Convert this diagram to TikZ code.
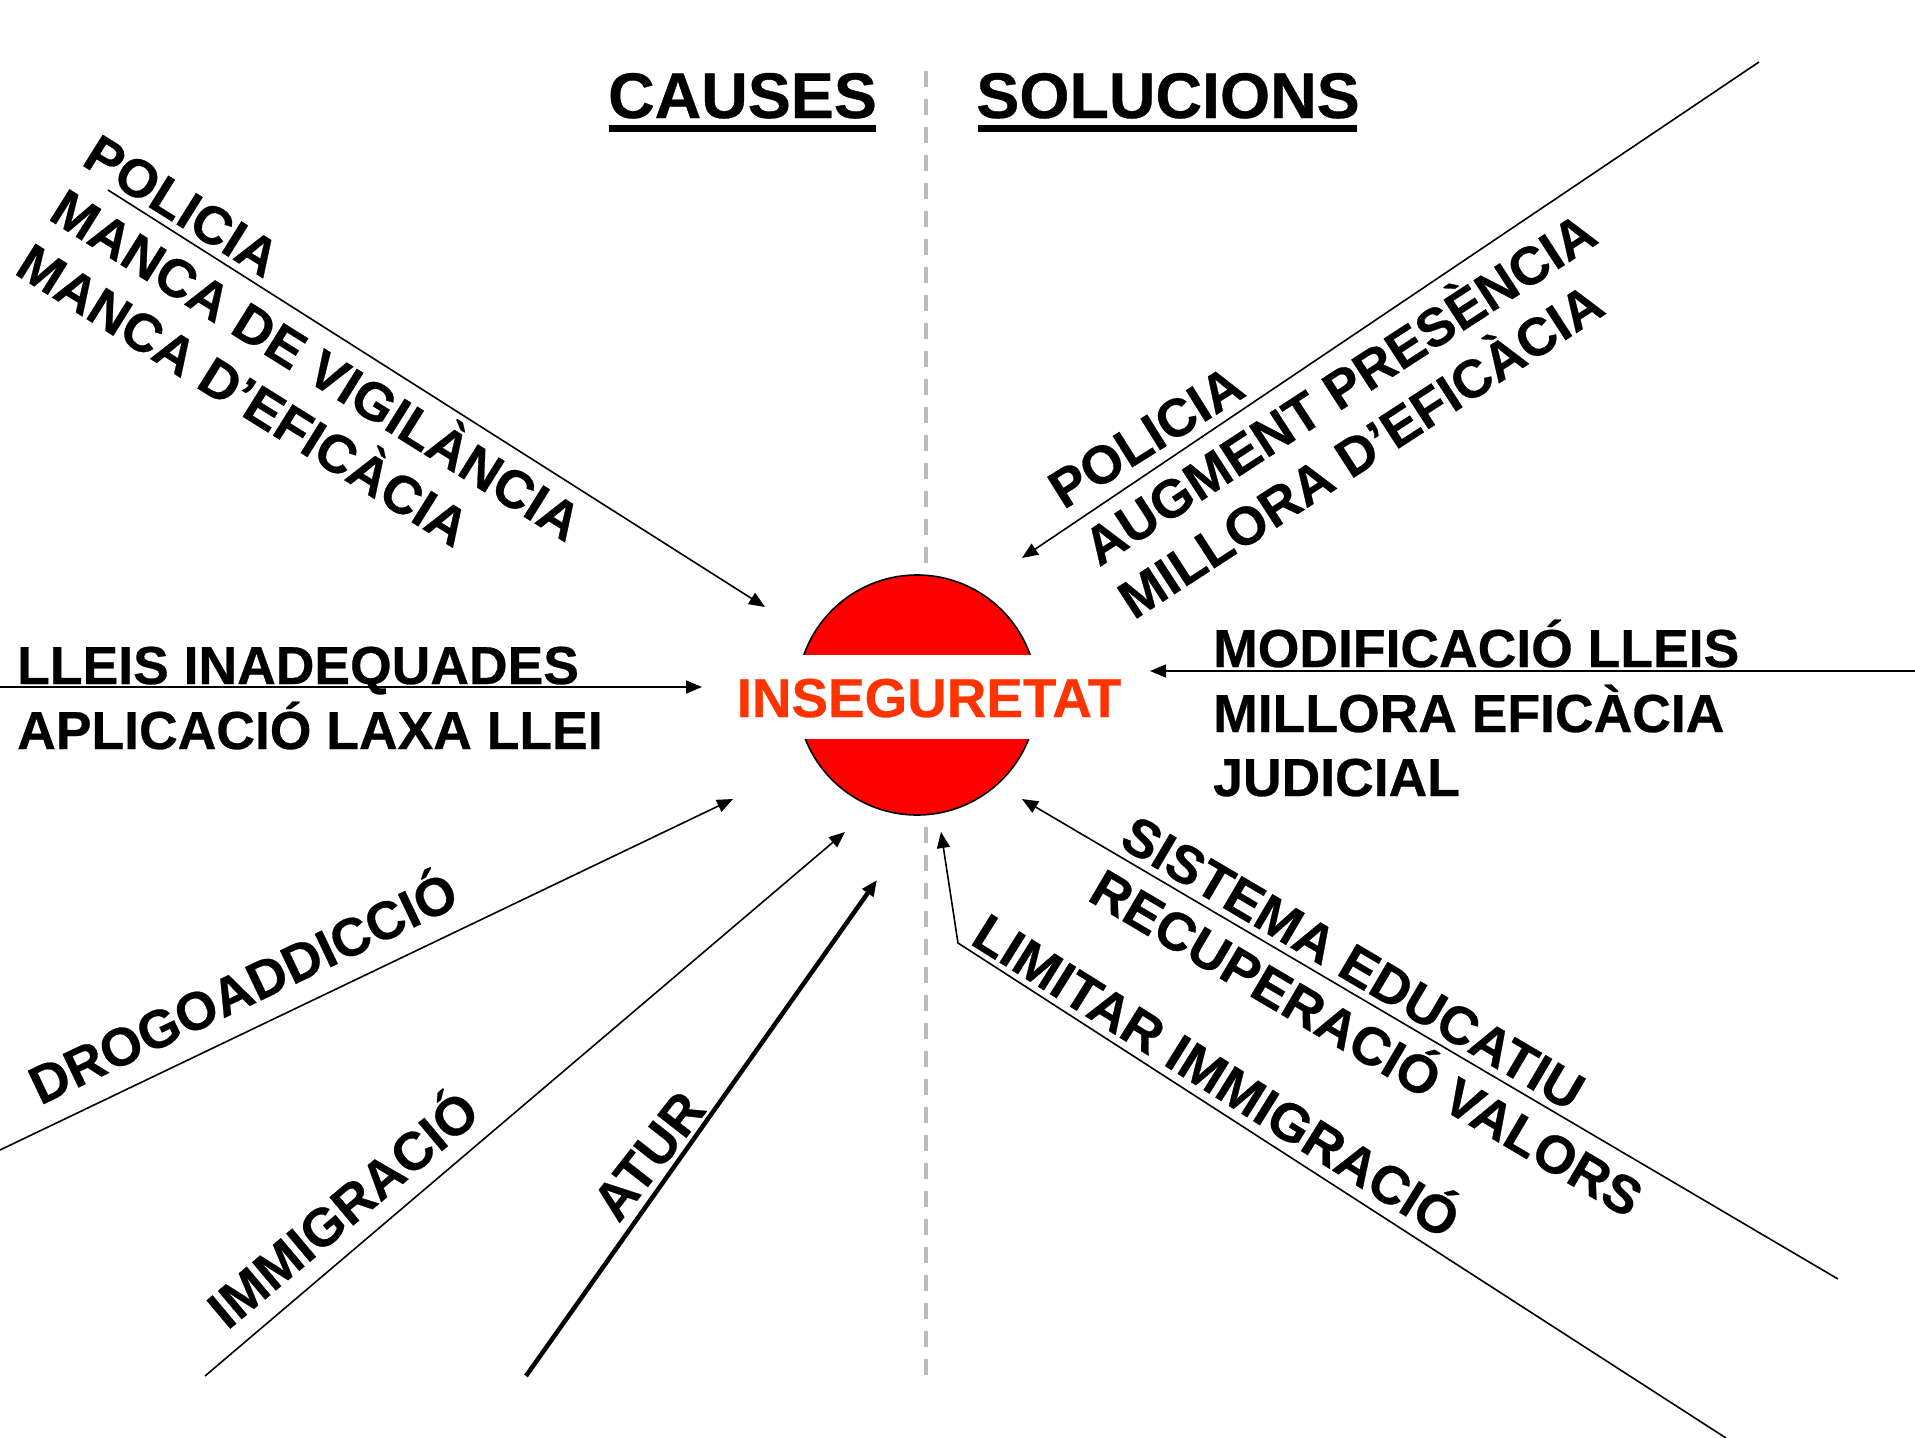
\documentclass[tikz,border=0pt]{standalone}
\usepackage{fontspec}
\setmainfont[BoldFeatures={FakeBold=0.5}]{Liberation Sans}
\usetikzlibrary{arrows.meta}
\definecolor{signred}{HTML}{FF0000}
\definecolor{wordred}{HTML}{FF3300}
\definecolor{divgray}{HTML}{BBBBBB}
\tikzset{
 thinline/.style={draw=black,line width=1.6pt,-{Triangle[length=16pt,width=13pt]}},
 thickline/.style={draw=black,line width=4.5pt,-{Triangle[length=16pt,width=13pt]}},
 lbl/.style={font=\fontsize{53.5}{53.5}\selectfont\bfseries,inner sep=0pt,anchor=center},
 lblh/.style={lbl,anchor=base west},
 head/.style={font=\fontsize{64.5}{64.5}\selectfont\bfseries,inner sep=0pt,anchor=base},
 uline/.style={line width=6.5pt},
}
\begin{document}
\begin{tikzpicture}[x=1pt,y=-1pt]
\useasboundingbox (0,0) rectangle (1915,1438);
\fill[white] (0,0) rectangle (1915,1438);
% divider
\coordinate (dt) at (926,70.7); \coordinate (db) at (926,1376);
\draw[draw=divgray,line width=4.5pt,dash pattern=on 16pt off 12pt] (dt) -- (db);
% stop sign
\node[circle,draw=black,fill=signred,line width=1.6pt,minimum size=240pt,inner sep=0pt] (sign) at (917,695) {};
\fill[white] (780,655) rectangle (1060,739);
\node[font=\fontsize{54.8}{54.8}\selectfont\bfseries,text=wordred,inner sep=0pt,anchor=base] (ins) at (929,717) {INSEGURETAT};
% headings
\node[head] (c) at (742.5,118) {CAUSES};
\node[head] (s) at (1168,118) {SOLUCIONS};
\draw[uline] (609,128.3) -- (875.5,128.3);
\draw[uline] (978,128.3) -- (1357,128.3);
% connector ends
\coordinate (a1) at (108,190); \coordinate (a2) at (765,607);
\coordinate (b1) at (0,687); \coordinate (b2) at (702,687);
\coordinate (c1) at (0,1150); \coordinate (c2) at (733,799);
\coordinate (d1) at (205,1376); \coordinate (d2) at (845,832);
\coordinate (e1) at (526,1376); \coordinate (e2) at (877,880);
\coordinate (f1) at (1759,62); \coordinate (f2) at (1022,558);
\coordinate (g1) at (1915,671); \coordinate (g2) at (1150,671);
\coordinate (h1) at (1838,1279); \coordinate (h2) at (1022,799);
\coordinate (i1) at (1726,1438); \coordinate (i0) at (958,943); \coordinate (i2) at (941,832);
\draw[thinline] (a1) -- (a2);
\draw[thinline] (b1) -- (b2);
\draw[thinline] (c1) -- (c2);
\draw[thinline] (d1) -- (d2);
\draw[thickline] (e1) -- (e2);
\draw[thinline] (f1) -- (f2);
\draw[thinline] (g1) -- (g2);
\draw[thinline] (h1) -- (h2);
\draw[thinline] (i1) -- (i0) -- (i2);
% labels
\node[lbl,rotate=-32] (l1) at (182,206) {POLICIA};
\node[lbl,rotate=-32] (l2) at (319,361) {MANCA DE VIGILÀNCIA};
\node[lbl,rotate=-32] (l3) at (246,391) {MANCA D’EFICÀCIA};
\node[lblh] (l4) at (17,684) {LLEIS INADEQUADES};
\node[lblh] (l5) at (17,749) {APLICACIÓ LAXA LLEI};
\node[lbl,rotate=25.5] (l6) at (241,984) {DROGOADDICCIÓ};
\node[lbl,rotate=40] (l7) at (340,1206) {IMMIGRACIÓ};
\node[lbl,rotate=52] (l8) at (649,1156) {ATUR};
\node[lbl,rotate=32] (r1) at (1146,437) {POLICIA};
\node[lbl,rotate=33] (r2) at (1337,385) {AUGMENT PRESÈNCIA};
\node[lbl,rotate=33] (r3) at (1358,447) {MILLORA D’EFICÀCIA};
\node[lblh] (r4) at (1213,667) {MODIFICACIÓ LLEIS};
\node[lblh] (r5) at (1213,732) {MILLORA EFICÀCIA};
\node[lblh] (r6) at (1213,796) {JUDICIAL};
\node[lbl,rotate=-30.5] (r7) at (1353,963) {SISTEMA EDUCATIU};
\node[lbl,rotate=-30.5] (r8) at (1369,1039) {RECUPERACIÓ VALORS};
\node[lbl,rotate=-32] (r9) at (1219,1072) {LIMITAR IMMIGRACIÓ};
\end{tikzpicture}
\end{document}
